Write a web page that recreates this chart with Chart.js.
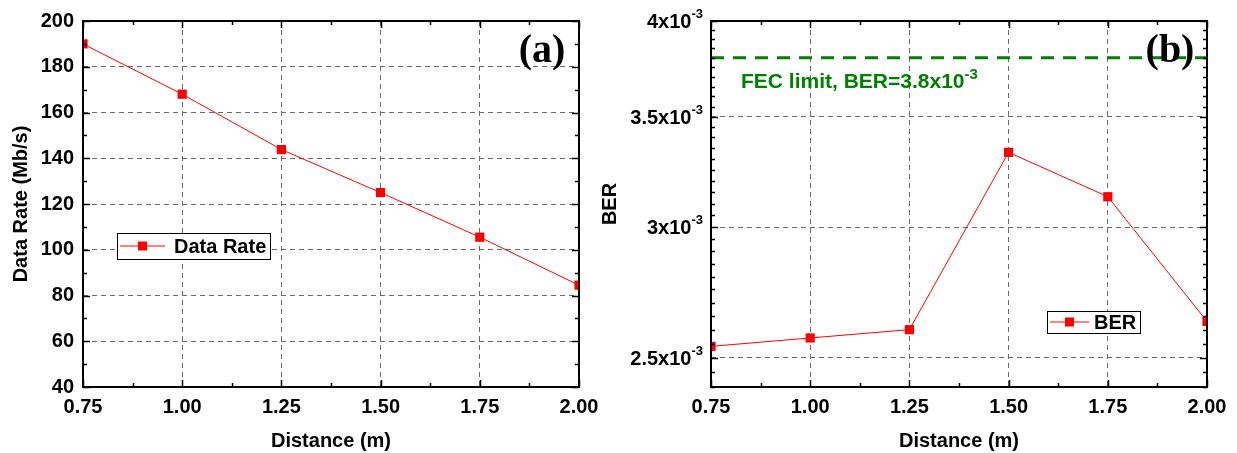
<!DOCTYPE html>
<html lang="en">
<head>
<meta charset="UTF-8">
<title>Data Rate and BER vs Distance</title>
<script src="https://cdn.jsdelivr.net/npm/chart.js"></script>
<style>
    body { margin: 0; background: #fff; }
    .wrap { position: relative; width: 1237px; height: 453px; }
    canvas { position: absolute; top: 0; }
    #rateChart { left: 0; }
    #berChart { left: 590px; }
</style>
</head>
<body>
<div class="wrap">
    <canvas id="rateChart" width="620" height="453"></canvas>
    <canvas id="berChart" width="647" height="453"></canvas>
</div>
<script>
// data
const distances = [0.75, 1.00, 1.25, 1.50, 1.75, 2.00];
const dataRate = [190, 168, 143.8, 125, 105.5, 84.5];
const ber = [2.54e-3, 2.57e-3, 2.60e-3, 3.33e-3, 3.13e-3, 2.63e-3];
const fecLimit = 3.8e-3;

// tick labels
const distanceTicks = [0.75, 1.00, 1.25, 1.50, 1.75, 2.00];
const rateTicks = [40, 60, 80, 100, 120, 140, 160, 180, 200];
const berTicks = [2.5e-3, 3.0e-3, 3.5e-3, 4.0e-3];
const berTickLabels = [['2.5x10', '-3'], ['3x10', '-3'], ['3.5x10', '-3'], ['4x10', '-3']];

const FONT = '"Liberation Sans", Arial, sans-serif';
const RED = '#ff0000';
const GREEN = '#008000';

// major ticks plus minor ticks halfway between them
function withMinor(major) {
    const out = [];
    major.forEach((v, i) => {
        out.push({ value: v });
        if (i < major.length - 1) out.push({ value: (v + major[i + 1]) / 2, minor: true });
    });
    return out;
}

// log axis: minor every 0.05e-3 from 2.4e-3 to 4e-3
function berAxisTicks() {
    const out = [];
    for (let k = 48; k <= 80; k++) {
        out.push({ value: k * 5e-5, minor: k % 10 !== 0 });
    }
    return out;
}

const gridColor = ctx => (ctx.tick && !ctx.tick.minor) ? '#6a6a6a' : 'transparent';

// frame, inward tick marks, legend box, panel tag, extra labels
const decorPlugin = {
    id: 'decor',
    afterDraw(chart, args, opts) {
        const { ctx, chartArea: a, scales: { x, y } } = chart;
        ctx.save();
        ctx.strokeStyle = '#000';
        ctx.lineWidth = 1.5;
        ctx.beginPath();
        x.ticks.forEach(t => {
            const px = Math.round(x.getPixelForValue(t.value)) + 0.5;
            const len = t.minor ? 4 : 7;
            ctx.moveTo(px, a.bottom); ctx.lineTo(px, a.bottom - len);
            ctx.moveTo(px, a.top); ctx.lineTo(px, a.top + len);
        });
        y.ticks.forEach(t => {
            const py = Math.round(y.getPixelForValue(t.value)) + 0.5;
            const len = t.minor ? 4 : 7;
            ctx.moveTo(a.left, py); ctx.lineTo(a.left + len, py);
            ctx.moveTo(a.right, py); ctx.lineTo(a.right - len, py);
        });
        ctx.stroke();
        ctx.lineWidth = 2;
        ctx.strokeRect(a.left, a.top, a.right - a.left, a.bottom - a.top);

        // superscript tick labels for the BER axis
        if (opts.supLabels) {
            ctx.fillStyle = '#000';
            ctx.textBaseline = 'alphabetic';
            ctx.textAlign = 'left';
            berTicks.forEach((v, i) => {
                const py = y.getPixelForValue(v);
                const [base, sup] = berTickLabels[i];
                ctx.font = 'bold 20px ' + FONT;
                const wb = ctx.measureText(base).width;
                ctx.font = 'bold 13px ' + FONT;
                const ws = ctx.measureText(sup).width;
                const x0 = a.left - 8 - wb - ws;
                ctx.font = 'bold 20px ' + FONT;
                ctx.fillText(base, x0, py + 7);
                ctx.font = 'bold 13px ' + FONT;
                ctx.fillText(sup, x0 + wb, py - 3);
            });
        }

        // FEC limit label
        if (opts.fecText) {
            ctx.fillStyle = GREEN;
            ctx.textAlign = 'left';
            ctx.textBaseline = 'alphabetic';
            ctx.font = 'bold 21px ' + FONT;
            const bx = a.left + 30, by = a.top + 67;
            ctx.fillText(opts.fecText[0], bx, by);
            const w = ctx.measureText(opts.fecText[0]).width;
            ctx.font = 'bold 15px ' + FONT;
            ctx.fillText(opts.fecText[1], bx + w, by - 9);
        }

        // legend
        const lg = opts.legend;
        if (lg) {
            const lx = a.left + lg.dx, ly = a.top + lg.dy;
            ctx.fillStyle = '#fff';
            ctx.fillRect(lx, ly, lg.w, lg.h);
            ctx.lineWidth = 1;
            ctx.strokeStyle = '#000';
            ctx.strokeRect(lx + 0.5, ly + 0.5, lg.w, lg.h);
            const my = ly + lg.h / 2;
            ctx.strokeStyle = RED;
            ctx.beginPath();
            ctx.moveTo(lx + 3, my); ctx.lineTo(lx + lg.lineLen, my);
            ctx.stroke();
            ctx.fillStyle = RED;
            const cx = lx + 3 + (lg.lineLen - 3) / 2;
            ctx.fillRect(cx - 4.5, my - 4.5, 9, 9);
            ctx.fillStyle = '#000';
            ctx.font = 'bold 20px ' + FONT;
            ctx.textBaseline = 'middle';
            ctx.fillText(lg.label, lx + lg.textX, my + 1);
        }

        // panel tag
        ctx.fillStyle = '#000';
        ctx.font = 'bold 40px "Liberation Serif", "Times New Roman", serif';
        ctx.textAlign = 'center';
        ctx.textBaseline = 'middle';
        ctx.fillText(opts.tag, a.right - 37, a.top + 31);
        ctx.restore();
    }
};

function xScale() {
    return {
        type: 'linear',
        min: 0.75,
        max: 2.0,
        afterBuildTicks: s => { s.ticks = withMinor(distanceTicks); },
        afterFit: s => { s.height = 66; },
        grid: { color: gridColor, lineWidth: 1, drawTicks: false },
        border: { display: false, dash: [5, 4] },
        ticks: {
            autoSkip: false,
            maxRotation: 0,
            padding: 8,
            color: '#000',
            font: { family: FONT, size: 20, weight: 'bold' },
            callback: (v, i, ticks) => ticks[i].minor ? '' : v.toFixed(2)
        },
        title: {
            display: true,
            text: 'Distance (m)',
            color: '#000',
            font: { family: FONT, size: 20, weight: 'bold' },
            padding: { top: 0, bottom: 0 }
        }
    };
}

const rateCtx = document.getElementById('rateChart').getContext('2d');
new Chart(rateCtx, {
    type: 'line',
    data: {
        datasets: [{
            label: 'Data Rate',
            data: distances.map((d, i) => ({ x: d, y: dataRate[i] })),
            borderColor: RED,
            backgroundColor: RED,
            borderWidth: 1,
            pointStyle: 'rect',
            pointRadius: 6.5,
            pointBorderWidth: 0,
            tension: 0
        }]
    },
    options: {
        responsive: false,
        animation: false,
        layout: { padding: { top: 21, right: 41, left: 0, bottom: 0 } },
        scales: {
            x: xScale(),
            y: {
                type: 'linear',
                min: 40,
                max: 200,
                afterBuildTicks: s => { s.ticks = withMinor(rateTicks); },
                afterFit: s => { s.width = 83; },
                grid: { color: gridColor, lineWidth: 1, drawTicks: false },
                border: { display: false, dash: [5, 4] },
                ticks: {
                    autoSkip: false,
                    padding: 9,
                    color: '#000',
                    font: { family: FONT, size: 20, weight: 'bold' },
                    callback: (v, i, ticks) => ticks[i].minor ? '' : String(v)
                },
                title: {
                    display: true,
                    text: 'Data Rate (Mb/s)',
                    color: '#000',
                    font: { family: FONT, size: 20, weight: 'bold' },
                    padding: { top: 9, bottom: 0 }
                }
            }
        },
        plugins: {
            legend: { display: false },
            tooltip: { enabled: false },
            decor: {
                tag: '(a)',
                legend: { label: 'Data Rate', dx: 34, dy: 212, w: 153, h: 26, lineLen: 48, textX: 57 }
            }
        }
    },
    plugins: [decorPlugin]
});

const berCtx = document.getElementById('berChart').getContext('2d');
new Chart(berCtx, {
    type: 'line',
    data: {
        datasets: [{
            label: 'BER',
            data: distances.map((d, i) => ({ x: d, y: ber[i] })),
            borderColor: RED,
            backgroundColor: RED,
            borderWidth: 1,
            pointStyle: 'rect',
            pointRadius: 6.5,
            pointBorderWidth: 0,
            tension: 0
        }, {
            label: 'FEC limit',
            data: [{ x: 0.75, y: fecLimit }, { x: 2.0, y: fecLimit }],
            borderColor: GREEN,
            borderWidth: 3,
            borderDash: [13, 9],
            pointRadius: 0,
            tension: 0
        }]
    },
    options: {
        responsive: false,
        animation: false,
        layout: { padding: { top: 21, right: 30, left: 0, bottom: 0 } },
        scales: {
            x: xScale(),
            y: {
                type: 'logarithmic',
                min: 2.4e-3,
                max: 4.0e-3,
                afterBuildTicks: s => { s.ticks = berAxisTicks(); },
                afterFit: s => { s.width = 121; },
                grid: { color: gridColor, lineWidth: 1, drawTicks: false },
                border: { display: false, dash: [5, 4] },
                ticks: { autoSkip: false, callback: () => '' },
                title: {
                    display: true,
                    text: 'BER',
                    color: '#000',
                    font: { family: FONT, size: 20, weight: 'bold' },
                    padding: { top: 8, bottom: 0 }
                }
            }
        },
        plugins: {
            legend: { display: false },
            tooltip: { enabled: false },
            decor: {
                tag: '(b)',
                supLabels: true,
                fecText: ['FEC limit, BER=3.8x10', '-3'],
                legend: { label: 'BER', dx: 336, dy: 290, w: 93, h: 22, lineLen: 42, textX: 47 }
            }
        }
    },
    plugins: [decorPlugin]
});
</script>
</body>
</html>
